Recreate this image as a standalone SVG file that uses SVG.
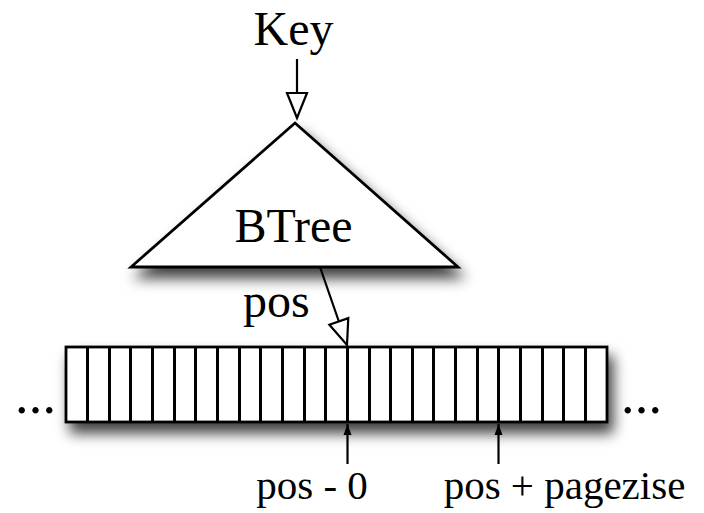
<svg xmlns="http://www.w3.org/2000/svg" width="704" height="513" viewBox="0 0 704 513">
  <defs>
    <filter id="shadow" x="-20%" y="-30%" width="140%" height="200%">
      <feDropShadow dx="5" dy="10" stdDeviation="7" flood-color="#000" flood-opacity="0.75"/>
    </filter>
    <marker id="openHead" markerUnits="userSpaceOnUse" markerWidth="30" markerHeight="26" refX="25" refY="10" orient="auto" overflow="visible">
      <path d="M0,0 L25,10 L0,20 Z" fill="#fff" stroke="#000" stroke-width="2.2" stroke-linejoin="miter"/>
    </marker>
    <marker id="solidHead" markerUnits="userSpaceOnUse" markerWidth="12" markerHeight="10" refX="11" refY="4" orient="auto" overflow="visible">
      <path d="M0,0 L11,4 L0,8 Z" fill="#000"/>
    </marker>
  </defs>
  <style>
    text { font-family: "Liberation Serif", "Times New Roman", serif; fill: #000; }
    .big { font-size: 48px; }
    .small { font-size: 41px; }
    .dots { font-size: 54px; letter-spacing: 0.2px; }
    .shape { fill: #fff; stroke: #000; stroke-width: 2.8; stroke-linejoin: miter; }
    .div { fill: none; stroke: #000; stroke-width: 3; }
    .conn { fill: none; stroke: #000; stroke-width: 2.2; }
  </style>

  <g id="key-label">
    <text class="big" x="293.5" y="45" text-anchor="middle">Key</text>
  </g>

  <g id="btree">
    <polygon class="shape" filter="url(#shadow)" points="295,123 458,267 131,267"/>
    <text class="big" x="293.5" y="242" text-anchor="middle">BTree</text>
  </g>

  <g id="pages">
    <rect class="shape" filter="url(#shadow)" x="66" y="347" width="541" height="75"/>
    <path class="div" d="M87.5,347V422 M109.5,347V422 M130.5,347V422 M152.5,347V422 M174.5,347V422 M195.5,347V422 M217.5,347V422 M239.5,347V422 M260.5,347V422 M282.5,347V422 M304.5,347V422 M325.5,347V422 M347.5,347V422 M369.5,347V422 M390.5,347V422 M412.5,347V422 M433.5,347V422 M455.5,347V422 M477.5,347V422 M498.5,347V422 M520.5,347V422 M542.5,347V422 M563.5,347V422 M585.5,347V422"/>
  </g>

  <g id="ellipsis-left">
    <text class="dots" x="15" y="413">...</text>
  </g>
  <g id="ellipsis-right">
    <text class="dots" x="621" y="413">...</text>
  </g>

  <g id="pos-label">
    <text class="big" x="243" y="317">pos</text>
  </g>
  <g id="pos0-label">
    <text class="small" x="312" y="499" text-anchor="middle">pos - 0</text>
  </g>
  <g id="pospage-label">
    <text class="small" x="564.5" y="499" text-anchor="middle">pos + pagezise</text>
  </g>

  <g id="connectors">
    <line class="conn" x1="297" y1="59" x2="297" y2="118" marker-end="url(#openHead)"/>
    <line class="conn" x1="320" y1="267" x2="347" y2="345" marker-end="url(#openHead)"/>
    <line class="conn" x1="347.5" y1="464" x2="347.5" y2="424" marker-end="url(#solidHead)"/>
    <line class="conn" x1="498.5" y1="464" x2="498.5" y2="424" marker-end="url(#solidHead)"/>
  </g>
</svg>
